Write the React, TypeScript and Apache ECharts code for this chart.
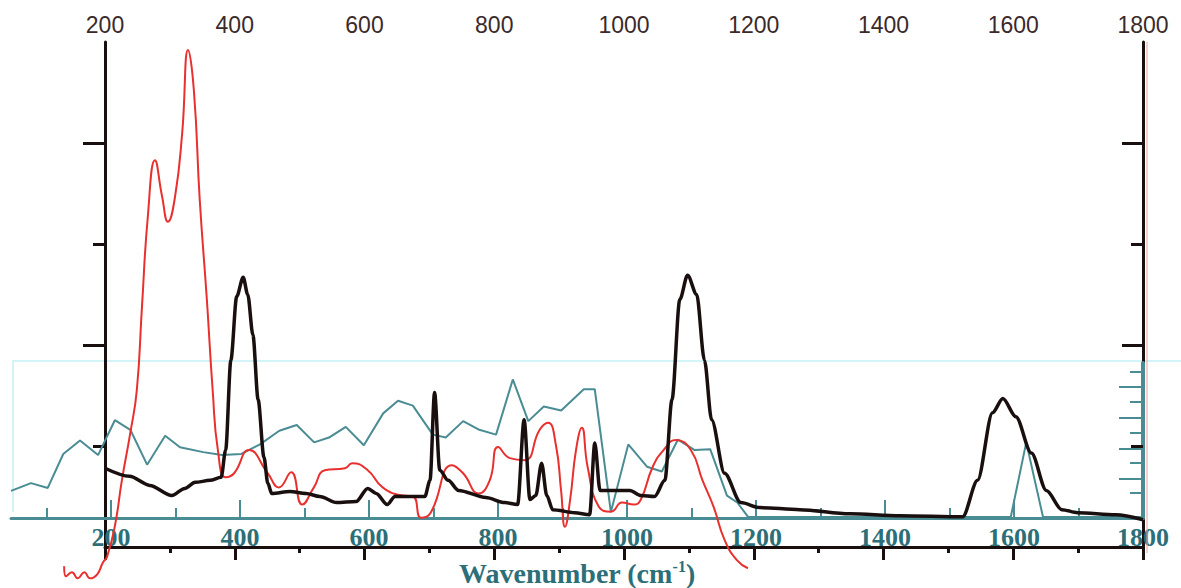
import React, { useEffect, useRef } from "react";
import * as echarts from "echarts";

// Black spectrum (top axis / black frame)
const blackWavenumbers = [200,238,269,303,323,339,362,379,386,394,403,413,420,428,436,445,451,457,485,510,531,557,587,605,618,635,647,693,701,708,716,729,745,787,816,836,846,855,864,873,881,890,924,947,955,963,1009,1026,1047,1063,1074,1086,1098,1112,1124,1135,1155,1180,1209,1271,1348,1425,1522,1545,1568,1584,1604,1628,1651,1675,1699,1758,1800];
const blackValues = [0.78,0.70,0.61,0.51,0.58,0.64,0.66,0.69,0.96,1.85,2.48,2.67,2.50,2.10,1.46,0.89,0.63,0.53,0.55,0.53,0.50,0.44,0.45,0.58,0.53,0.42,0.50,0.50,0.66,1.53,0.76,0.66,0.56,0.49,0.44,0.42,1.26,0.47,0.51,0.83,0.51,0.37,0.34,0.32,1.03,0.56,0.56,0.51,0.50,0.66,1.46,2.45,2.69,2.50,1.85,1.26,0.73,0.44,0.39,0.37,0.33,0.31,0.30,0.66,1.33,1.47,1.29,0.93,0.56,0.37,0.34,0.32,0.27];

// Red spectrum (same scale as the black frame, drawn beyond it)
const redWavenumbers = [137,140,149,158,168,177,188,197,203,215,226,239,249,257,266,277,288,297,308,319,328,337,346,357,366,374,386,399,422,451,468,487,504,522,539,570,581,605,628,658,675,687,702,735,752,776,793,806,824,847,870,883,895,903,909,917,926,935,944,961,980,997,1015,1026,1044,1061,1080,1103,1121,1138,1155,1174,1191];
const redValues = [-0.19,-0.29,-0.25,-0.31,-0.25,-0.31,-0.27,-0.15,-0.10,0.20,0.66,1.13,1.55,2.38,3.27,3.83,3.47,3.22,3.47,4.10,4.92,4.52,3.44,2.45,1.55,0.96,0.69,0.73,0.96,0.73,0.59,0.74,0.42,0.59,0.76,0.78,0.83,0.76,0.59,0.51,0.50,0.29,0.34,0.81,0.73,0.53,0.66,0.99,0.88,0.86,1.16,1.23,1.01,0.56,0.20,0.47,0.96,1.18,0.79,0.40,0.35,0.44,0.42,0.47,0.79,0.96,1.06,0.96,0.66,0.40,0.07,-0.13,-0.21];

// Teal spectrum (bottom axis / teal frame)
const tealWavenumbers = [45,76,102,126,152,180,206,230,256,284,307,343,372,402,431,461,488,515,538,564,592,622,645,668,699,719,746,771,797,823,847,871,898,933,950,975,1002,1031,1054,1079,1105,1129,1155,1171,1188,1595,1619,1645,1800];
const tealValues = [1.75,2.25,1.94,4.13,5.0,4.06,6.31,5.69,3.44,5.31,4.56,4.25,4.06,4.13,4.75,5.63,6.0,4.88,5.19,5.88,4.69,6.75,7.56,7.25,5.38,5.19,6.25,5.69,5.38,8.94,6.25,7.19,6.94,8.31,8.31,0.38,4.75,3.31,3.0,5.06,4.38,4.44,1.44,1.0,0.06,0.06,4.88,0.06,0.06];

// Tick positions
const topTicks = [200, 400, 600, 800, 1000, 1200, 1400, 1600, 1800];
const bottomMajorTicks = [200, 400, 600, 800, 1000, 1200, 1400, 1600, 1800];
const bottomMinorTicks = [100, 300, 500, 700, 900, 1100, 1300, 1500, 1700];
const blackMajorY = [2, 4];
const blackMinorY = [1, 3];
const tealLongY = [2.55, 4.5, 6.5, 8.5];
const tealShortY = [1.6, 3.55, 5.5, 7.5, 9.45];

const zip = (xs: number[], ys: number[]) => xs.map((x, i) => [x, ys[i]]);
const plain = (v: number) => String(v);

const BLACK = "#1a0f0f";
const TEAL = "#4a8c93";
const TEAL_TEXT = "#2c6f78";
const RED = "#e8302e";

export default function App() {
  const ref = useRef<HTMLDivElement>(null);
  useEffect(() => {
    if (!ref.current) return;
    const chart = echarts.init(ref.current, undefined, { renderer: "svg" });
    const hidden = { show: false };
    // black frame: 200..1800 over x 105..1143 -> 0.64875 px/unit; red grid extends it down to 100
    const pxPerUnit = (1143 - 105) / 1600;
    const redLeft = 105 - 100 * pxPerUnit;
    chart.setOption({
      animation: false,
      backgroundColor: "#ffffff",
      grid: [
        { left: 105, right: 38, top: 42, bottom: 41, show: false },
        { left: 11, right: 38, top: 363, bottom: 65, show: false },
        { left: redLeft, right: 38, top: 42, bottom: 41, show: false },
      ],
      xAxis: [
        {
          gridIndex: 0, type: "value", position: "top", min: 200, max: 1800, interval: 200,
          axisLine: { show: true, lineStyle: { color: BLACK, width: 3 } },
          axisTick: { show: true, inside: true, length: 13, lineStyle: { color: BLACK, width: 3 } },
          minorTick: { show: true, splitNumber: 2, length: 6, lineStyle: { color: BLACK, width: 3 } },
          axisLabel: { show: true, customValues: topTicks, formatter: plain, margin: 6, color: "#3a2a2a", fontFamily: "Liberation Sans, Arial, sans-serif", fontSize: 23 },
          splitLine: hidden, minorSplitLine: hidden,
        },
        {
          gridIndex: 1, type: "value", position: "bottom", min: 45, max: 1800,
          axisLine: { show: true, onZero: false, lineStyle: { color: TEAL, width: 3 } },
          axisTick: { show: true, inside: true, length: 18, customValues: bottomMajorTicks, lineStyle: { color: TEAL, width: 2 } },
          axisLabel: { show: true, customValues: bottomMajorTicks, formatter: plain, margin: 6, color: TEAL_TEXT, fontFamily: "Liberation Serif, Times New Roman, serif", fontWeight: "bold", fontSize: 26 },
          splitLine: hidden,
          name: "Wavenumber (cm{sup|-1})",
          nameLocation: "middle",
          nameGap: 40,
          nameTextStyle: {
            color: TEAL_TEXT, fontFamily: "Liberation Serif, Times New Roman, serif", fontWeight: "bold", fontSize: 28,
            rich: { sup: { color: TEAL_TEXT, fontFamily: "Liberation Serif, serif", fontWeight: "bold", fontSize: 16, verticalAlign: "top", padding: [0, 0, 14, 0] } },
          },
        },
        {
          gridIndex: 1, type: "value", position: "bottom", min: 45, max: 1800,
          axisLine: { show: false, onZero: false },
          axisTick: { show: true, inside: true, length: 10, customValues: bottomMinorTicks, lineStyle: { color: TEAL, width: 2 } },
          axisLabel: hidden, splitLine: hidden,
        },
        {
          gridIndex: 2, type: "value", min: 100, max: 1800, show: false,
        },
      ],
      yAxis: [
        {
          gridIndex: 0, type: "value", position: "left", min: 0, max: 5,
          axisLine: { show: true, onZero: false, lineStyle: { color: BLACK, width: 3 } },
          axisTick: { show: true, inside: false, length: 22, customValues: blackMajorY, lineStyle: { color: BLACK, width: 3 } },
          axisLabel: hidden, splitLine: hidden,
        },
        {
          gridIndex: 0, type: "value", position: "left", min: 0, max: 5,
          axisLine: { show: false, onZero: false },
          axisTick: { show: true, inside: false, length: 12, customValues: blackMinorY, lineStyle: { color: BLACK, width: 3 } },
          axisLabel: hidden, splitLine: hidden,
        },
        {
          gridIndex: 0, type: "value", position: "right", min: 0, max: 5,
          axisLine: { show: true, onZero: false, lineStyle: { color: BLACK, width: 3 } },
          axisTick: { show: true, inside: true, length: 21, customValues: blackMajorY, lineStyle: { color: BLACK, width: 3 } },
          axisLabel: hidden, splitLine: hidden,
        },
        {
          gridIndex: 0, type: "value", position: "right", min: 0, max: 5,
          axisLine: { show: false, onZero: false },
          axisTick: { show: true, inside: true, length: 12, customValues: blackMinorY, lineStyle: { color: BLACK, width: 3 } },
          axisLabel: hidden, splitLine: hidden,
        },
        {
          gridIndex: 1, type: "value", position: "right", min: 0, max: 10,
          axisLine: { show: true, onZero: false, lineStyle: { color: TEAL, width: 4 } },
          axisTick: { show: true, inside: true, length: 24, customValues: tealLongY, lineStyle: { color: TEAL, width: 2 } },
          axisLabel: hidden, splitLine: hidden,
        },
        {
          gridIndex: 1, type: "value", position: "right", min: 0, max: 10,
          axisLine: { show: false, onZero: false },
          axisTick: { show: true, inside: true, length: 13, customValues: tealShortY, lineStyle: { color: TEAL, width: 2 } },
          axisLabel: hidden, splitLine: hidden,
        },
        {
          gridIndex: 2, type: "value", min: 0, max: 5, show: false,
        },
      ],
      graphic: [
        { type: "polyline", silent: true, z: 0, shape: { points: [[13, 512], [13, 361], [1181, 361]] }, style: { stroke: "#c4f1f6", lineWidth: 1.5, fill: null } },
        { type: "line", silent: true, z: 1, shape: { x1: 1147, y1: 42, x2: 1147, y2: 553 }, style: { stroke: "#e9a0a0", lineWidth: 1 } },
      ],
      series: [
        {
          type: "line", name: "teal", xAxisIndex: 1, yAxisIndex: 4, data: zip(tealWavenumbers, tealValues),
          showSymbol: false, symbol: "none", z: 2, lineStyle: { color: TEAL, width: 2 },
        },
        {
          type: "line", name: "red", xAxisIndex: 3, yAxisIndex: 6, data: zip(redWavenumbers, redValues),
          showSymbol: false, symbol: "none", clip: false, smooth: 0.5, z: 3, lineStyle: { color: RED, width: 2 },
        },
        {
          type: "line", name: "black", xAxisIndex: 0, yAxisIndex: 0, data: zip(blackWavenumbers, blackValues),
          showSymbol: false, symbol: "none", smooth: 0.3, smoothMonotone: "x", z: 4, lineStyle: { color: BLACK, width: 3.5 },
        },
      ],
    });
    return () => chart.dispose();
  }, []);
  return <div ref={ref} style={{ position: "fixed", left: 0, top: 0, width: 1181, height: 588, background: "#fff" }} />;
}
